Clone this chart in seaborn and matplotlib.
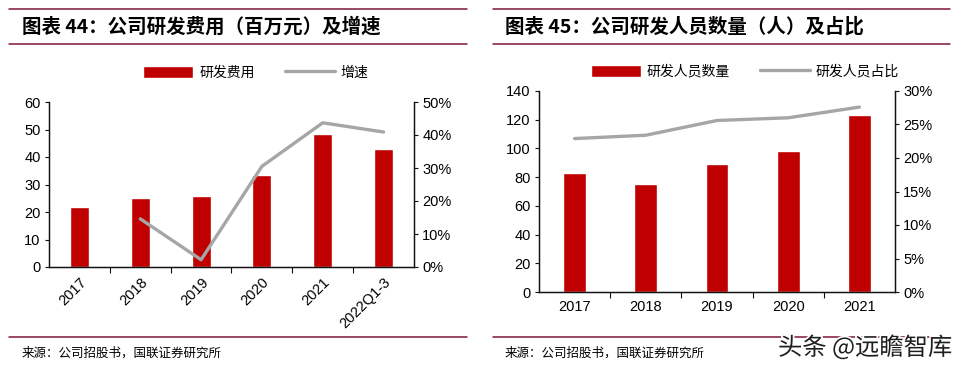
import numpy as np
import pandas as pd
import seaborn as sns
import matplotlib
matplotlib.use("Agg")
import matplotlib.pyplot as plt
from matplotlib.lines import Line2D
from matplotlib.ticker import FuncFormatter, MultipleLocator
import matplotlib.patheffects as pe

# chart 44: R&D expense (million yuan) and growth
years_44 = ["2017", "2018", "2019", "2020", "2021", "2022Q1-3"]
rd_cost = [22.0, 25.2, 25.7, 33.5, 48.2, 43.0]
rd_growth = [np.nan, 14.6, 2.2, 30.5, 43.7, 40.9]  # %

# chart 45: R&D staff and share
years_45 = ["2017", "2018", "2019", "2020", "2021"]
rd_staff = [83, 75, 89, 98, 123]
rd_share = [22.9, 23.4, 25.6, 26.0, 27.6]  # %

RED = "#C00000"
GREY = "#A6A6A6"
MAROON = "#7F1734"
CJK = ["Noto Sans CJK SC", "DejaVu Sans"]
NUM = ["Liberation Sans", "DejaVu Sans"]

sns.set_theme(style="ticks")
plt.rcParams["font.family"] = NUM
plt.rcParams["text.color"] = "black"
plt.rcParams["xtick.labelcolor"] = "black"
plt.rcParams["ytick.labelcolor"] = "black"

fig = plt.figure(figsize=(9.59, 3.72), dpi=100)


def px_axes(x0, y0, x1, y1):
    W, H = 959, 372
    return fig.add_axes([x0 / W, 1 - y1 / H, (x1 - x0) / W, (y1 - y0) / H])


def style_axes(ax, ax2, n):
    for a in (ax, ax2):
        a.spines["top"].set_visible(False)
        for s in ("left", "right", "bottom"):
            a.spines[s].set_color("#111111")
            a.spines[s].set_linewidth(0.9)
        a.tick_params(axis="y", labelsize=10.5, length=3, width=0.8, color="#111111",
                      labelcolor="black", pad=3)
    ax.set_xlim(-0.5, n - 0.5)
    ax.set_xticks(np.arange(n))
    ax.set_xticks(np.arange(n - 1) + 0.5, minor=True)
    ax.tick_params(axis="x", which="major", length=0, labelsize=10.5, pad=6, labelcolor="black")
    ax.tick_params(axis="x", which="minor", length=4, width=0.8, color="#111111")
    ax.set_xlabel("")
    ax.set_ylabel("")
    ax2.set_ylabel("")
    ax2.yaxis.set_major_formatter(FuncFormatter(lambda v, p: f"{v:.0f}%"))


def make_chart(ax, cats, bars, line, bar_label, line_label, width):
    df = pd.DataFrame({"cat": cats, "bar": bars, "line": line, "pos": np.arange(len(cats))})
    sns.barplot(data=df, x="cat", y="bar", color=RED, saturation=1, width=width, ax=ax, label=bar_label)
    ax2 = ax.twinx()
    sns.lineplot(data=df, x="pos", y="line", color=GREY, linewidth=2.4, ax=ax2, label=line_label)
    if ax2.get_legend():
        ax2.get_legend().remove()
    return ax2


def legend(ax, ax2, x, y):
    h1, l1 = ax.get_legend_handles_labels()
    h2, l2 = ax2.get_legend_handles_labels()
    ax.legend(h1 + h2, l1 + l2, loc="center", bbox_to_anchor=(x, y), ncol=2, frameon=False,
              prop={"family": CJK, "size": 10}, handlelength=3.6, handleheight=1.0,
              columnspacing=2.2, handletextpad=0.4)


# left chart
ax = px_axes(49, 102, 414, 267)
ax2 = make_chart(ax, years_44, rd_cost, rd_growth, "研发费用", "增速", 0.31)
ax.set_ylim(0, 60)
ax.yaxis.set_major_locator(MultipleLocator(10))
ax2.set_ylim(0, 50)
ax2.yaxis.set_major_locator(MultipleLocator(10))
style_axes(ax, ax2, len(years_44))
ax.set_xticklabels(years_44, rotation=45, ha="right", rotation_mode="anchor")
legend(ax, ax2, 0.567, 1.176)

# right chart
bx = px_axes(539, 91, 895, 292)
bx2 = make_chart(bx, years_45, rd_staff, rd_share, "研发人员数量", "研发人员占比", 0.32)
bx.set_ylim(0, 140)
bx.yaxis.set_major_locator(MultipleLocator(20))
bx2.set_ylim(0, 30)
bx2.yaxis.set_major_locator(MultipleLocator(5))
style_axes(bx, bx2, len(years_45))
bx.set_xticklabels(years_45)
legend(bx, bx2, 0.579, 1.095)

# titles, rules and source lines
W, H = 959, 372


def hline(x0, x1, y):
    fig.add_artist(Line2D([x0 / W, x1 / W], [1 - y / H, 1 - y / H], color=MAROON, lw=1.1))


for x0, x1 in ((9, 467), (493, 950)):
    hline(x0, x1, 9)
    hline(x0, x1, 44)
    hline(x0, x1, 337)

fig.text(22 / W, 1 - 27 / H, "图表 44：公司研发费用（百万元）及增速", family=CJK, fontsize=14,
         fontweight="bold", va="center", ha="left")
fig.text(505 / W, 1 - 27 / H, "图表 45：公司研发人员数量（人）及占比", family=CJK, fontsize=14,
         fontweight="bold", va="center", ha="left")
fig.text(22 / W, 1 - 353 / H, "来源：公司招股书，国联证券研究所", family=CJK, fontsize=9, va="center")
fig.text(505 / W, 1 - 353 / H, "来源：公司招股书，国联证券研究所", family=CJK, fontsize=9, va="center")
fig.text(952 / W, 1 - 348 / H, "头条 @远瞻智库", family=CJK, fontsize=17.5, color="#1e1e1e",
         ha="right", va="center",
         path_effects=[pe.withStroke(linewidth=2.5, foreground="white")])

fig.savefig("out.png", dpi=100)
